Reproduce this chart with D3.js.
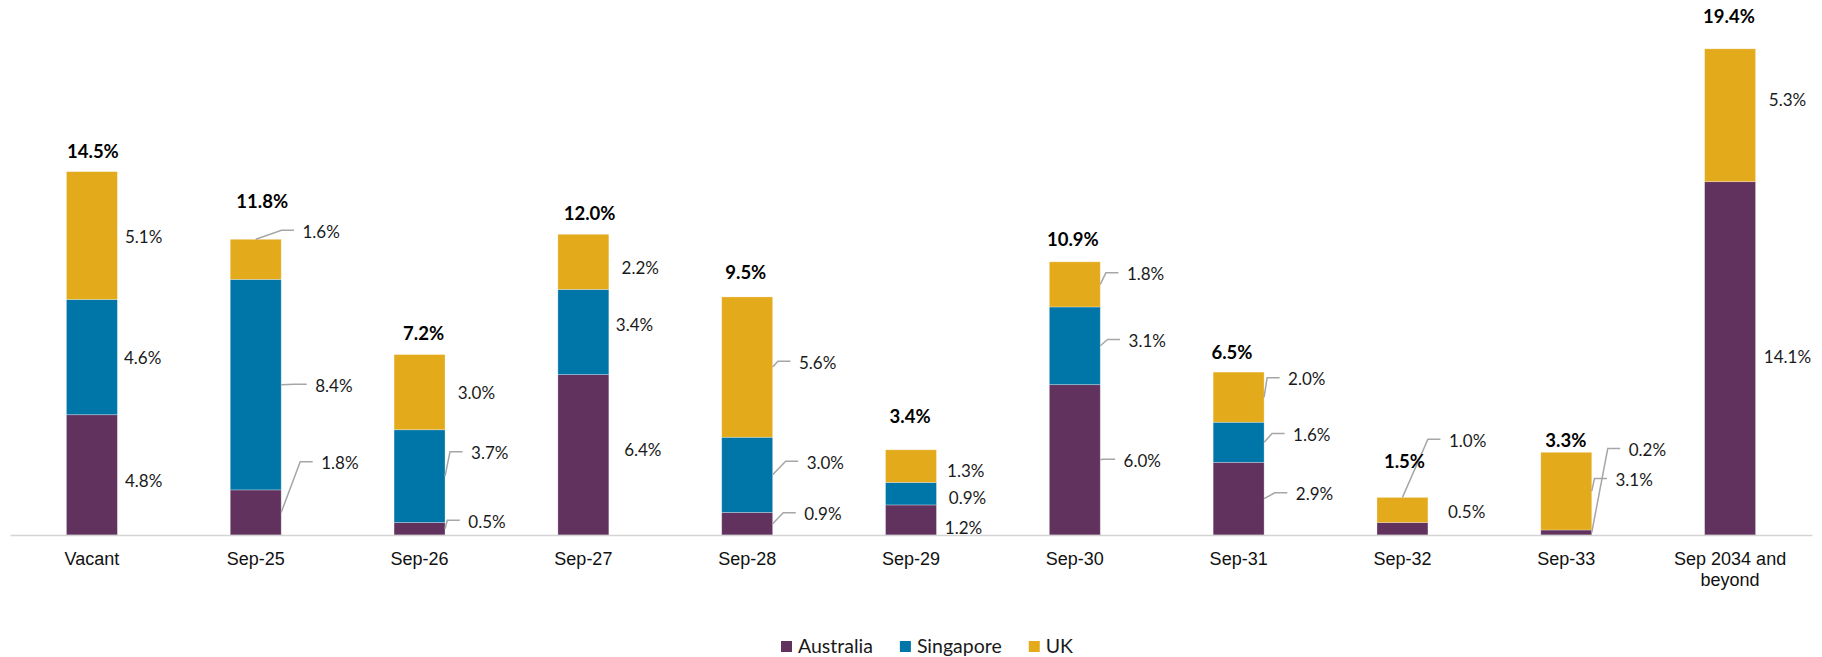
<!DOCTYPE html>
<html>
<head>
<meta charset="utf-8">
<script src="https://cdn.jsdelivr.net/npm/d3@7"></script>
<style>
  html, body { margin: 0; padding: 0; background: #ffffff; }
  svg { display: block; }
</style>
</head>
<body>
<svg id="chart" width="1822" height="657"></svg>
<script>
// Lease expiry profile by region (% of portfolio)
const categories = ["Vacant", "Sep-25", "Sep-26", "Sep-27", "Sep-28", "Sep-29",
                    "Sep-30", "Sep-31", "Sep-32", "Sep-33", "Sep 2034 and beyond"];
const australia = [4.8, 1.8, 0.5, 6.4, 0.9, 1.2, 6.0, 2.9, 0.5, 0.2, 14.1];
const singapore = [4.6, 8.4, 3.7, 3.4, 3.0, 0.9, 3.1, 1.6, 0, 0, 0];
const uk        = [5.1, 1.6, 3.0, 2.2, 5.6, 1.3, 1.8, 2.0, 1.0, 3.1, 5.3];
const totals    = [14.5, 11.8, 7.2, 12.0, 9.5, 3.4, 10.9, 6.5, 1.5, 3.3, 19.4];
const seriesNames = ["Australia", "Singapore", "UK"];
const seriesColors = ["#62325e", "#0076a8", "#e3aa1b"];

// Label placement: [dx from bar right edge, dy from segment middle, leader]
// leader: 0 = none, 1 = from the bar's right edge, 2 = from the top of the segment
const australiaLabelPos = [[7.6, 6.1, 0], [40, -49.1, 1], [23.3, -7, 1], [15.3, -4.8, 0],
  [31.6, -9.4, 1], [8.3, 8.3, 0], [23.3, 0.9, 1], [31.7, -4.4, 1], [20, -17, 0],
  [37, -82.5, 1], [8.3, -1.3, 0]];
const singaporeLabelPos = [[6.6, 0.9, 0], [34, 1.1, 1], [26, -22.8, 1], [7, -7, 0],
  [34, -12.2, 1], [12.3, 4, 0], [28.3, -4.8, 1], [29, -7.3, 1], null, null, null];
const ukLabelPos = [[7.6, 1.2, 0], [21.3, -27.6, 2], [12.7, 1.1, 0], [12.7, 6.5, 0],
  [26.3, -4.4, 1], [10.6, 4.9, 0], [26.6, -10.1, 1], [24, -17.9, 1], [21, -69.2, 2],
  [23.7, -11.1, 1], [13.3, -15.3, 0]];
// Total labels: [dx from bar centre, dy from bar top]
const totalLabelPos = [[1, -20.6], [6.5, -38.3], [4, -21.3], [6.2, -21], [-1.4, -24.3],
  [-0.9, -33.8], [-2, -22.8], [-6.7, -19.8], [2, -35.7], [-0.4, -11.6], [-1.1, -32.5]];

const seriesValues = [australia, singapore, uk];
const labelPos = [australiaLabelPos, singaporeLabelPos, ukLabelPos];

const svg = d3.select("#chart");

const x = d3.scaleBand()
  .domain(categories)
  .range([10, 1812])
  .paddingInner(0.689)
  .paddingOuter(0.3445);

const y = d3.scaleLinear()
  .domain([0, 20])
  .range([535, 33.8]);

const rows = categories.map((c, i) => ({
  category: c,
  Australia: australia[i],
  Singapore: singapore[i],
  UK: uk[i]
}));

const stacked = d3.stack().keys(seriesNames)(rows);

// Stacked bars
const layers = svg.append("g").attr("class", "bars")
  .selectAll("g")
  .data(stacked)
  .join("g")
  .attr("fill", (d, i) => seriesColors[i]);

layers.selectAll("rect")
  .data(d => d.filter(s => s[1] - s[0] > 0))
  .join("rect")
  .attr("x", d => x(d.data.category))
  .attr("width", x.bandwidth())
  .attr("y", d => y(d[1]))
  .attr("height", d => y(d[0]) - y(d[1]))
  .attr("stroke", "#ffffff")
  .attr("stroke-opacity", 0.35)
  .attr("stroke-width", 0.8);

// Category axis
const axis = svg.append("g")
  .attr("transform", `translate(0,${y(0)})`)
  .call(d3.axisBottom(x).tickSize(0).tickSizeOuter(0).tickFormat(""));
axis.select(".domain").attr("stroke", "#d4d4d4").attr("stroke-width", 1.6);

const tickText = axis.selectAll(".tick").append("text")
  .attr("fill", "#111111")
  .attr("text-anchor", "middle")
  .style("font-family", "'Liberation Sans', Arial, sans-serif")
  .style("font-size", "18px");
tickText.each(function(d) {
  const lines = d === "Sep 2034 and beyond" ? ["Sep 2034 and", "beyond"] : [d];
  const t = d3.select(this);
  lines.forEach((ln, k) => {
    t.append("tspan").attr("x", 0).attr("y", 23.3 + k * 21).attr("dy", "0.36em").text(ln);
  });
});

// Segment value labels with leader lines
const labelsG = svg.append("g").attr("class", "seg-labels");
const leadersG = svg.append("g").attr("class", "leaders");

stacked.forEach((layer, s) => {
  layer.forEach((seg, i) => {
    const v = seriesValues[s][i];
    const pos = labelPos[s][i];
    if (!v || !pos) return;
    const xr = x(categories[i]) + x.bandwidth();
    const yMid = (y(seg[0]) + y(seg[1])) / 2;
    const lx = xr + pos[0];
    const ly = yMid + pos[1];
    labelsG.append("text")
      .attr("x", lx)
      .attr("y", ly)
      .attr("dy", "0.36em")
      .attr("fill", "#1a1a1a")
      .style("font-family", "Lato, 'Open Sans', sans-serif")
      .style("font-size", "17px")
      .text(v.toFixed(1) + "%");
    if (pos[2]) {
      const start = pos[2] === 2
        ? [x(categories[i]) + x.bandwidth() / 2, y(seg[1])]
        : [xr, yMid];
      const pts = [start, [lx - 21, ly - 1.5], [lx - 8.5, ly - 1.5]];
      leadersG.append("path")
        .attr("d", d3.line()(pts))
        .attr("fill", "none")
        .attr("stroke", "#a6a6a6")
        .attr("stroke-width", 1.5);
    }
  });
});

// Total labels above bars
svg.append("g").attr("class", "totals")
  .selectAll("text")
  .data(totals)
  .join("text")
  .attr("x", (d, i) => x(categories[i]) + x.bandwidth() / 2 + totalLabelPos[i][0])
  .attr("y", (d, i) => y(d) + totalLabelPos[i][1])
  .attr("dy", "0.36em")
  .attr("text-anchor", "middle")
  .attr("fill", "#000000")
  .style("font-family", "Lato, 'Open Sans', sans-serif")
  .style("font-weight", "700")
  .style("font-size", "18.5px")
  .text(d => d.toFixed(1) + "%");

// Legend
const legend = svg.append("g").attr("class", "legend");
let lxPos = 781;
seriesNames.forEach((name, i) => {
  legend.append("rect")
    .attr("x", lxPos).attr("y", 641)
    .attr("width", 11).attr("height", 11)
    .attr("fill", seriesColors[i]);
  const t = legend.append("text")
    .attr("x", lxPos + 17)
    .attr("y", 646)
    .attr("dy", "0.36em")
    .attr("fill", "#1a1a1a")
    .style("font-family", "Lato, 'Open Sans', sans-serif")
    .style("font-size", "19.5px")
    .text(name);
  lxPos += 17 + t.node().getComputedTextLength() + 27;
});
</script>
</body>
</html>
